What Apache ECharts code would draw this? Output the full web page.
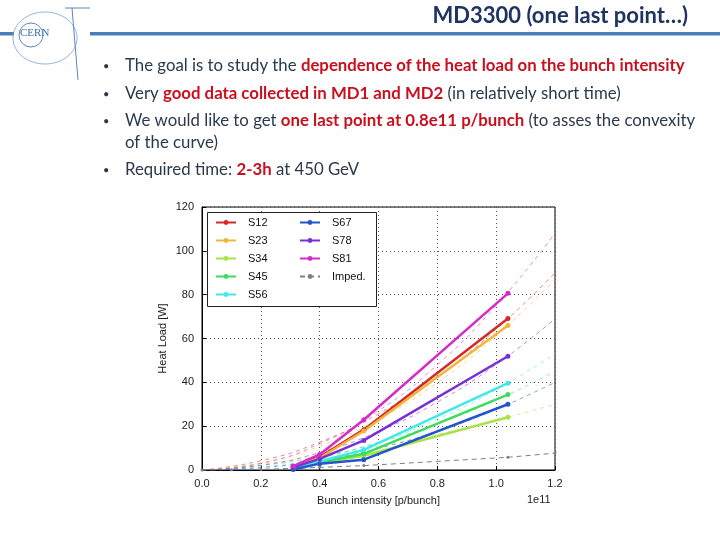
<!DOCTYPE html>
<html><head><meta charset="utf-8">
<script src="https://cdn.jsdelivr.net/npm/echarts@6/dist/echarts.min.js"></script>
<style>html,body{margin:0;padding:0;background:#fff}#c{width:720px;height:540px}</style>
</head><body><div id="c"></div>
<script>
// ---- data ----
const intensity = [0.31, 0.40, 0.55, 1.04];
const S12 = [1.5, 5.9, 18.4, 69.1];
const S23 = [1.3, 5.5, 17.8, 65.9];
const S34 = [0.6, 3.3, 6.5, 24.1];
const S45 = [0.8, 3.5, 7.4, 34.4];
const S56 = [1.0, 4.0, 9.2, 39.6];
const S67 = [0.2, 2.9, 4.7, 30.0];
const S78 = [1.2, 5.1, 13.5, 51.9];
const S81 = [1.8, 7.1, 22.9, 80.6];
const impedX = [0, 0.1, 0.2, 0.31, 0.40, 0.55, 1.04, 1.2];
const imped  = [0, 0.1, 0.3, 0.8, 1.2, 2.0, 5.8, 7.7];
// fitted curves
const fitX = [0, 0.2, 0.4, 0.6, 0.8, 1.0, 1.2];
const fitS12 = [0, 4.2, 12.7, 25.6, 42.7, 64.2, 90];
const fitS23 = [0, 3.2, 10.9, 23.2, 39.9, 61.2, 87];
const fitS34 = [0, 2.7, 6.3, 10.9, 16.3, 22.7, 30];
const fitS45 = [0, 2.0, 6.1, 12.5, 21.1, 31.9, 45];
const fitS56 = [0, 1.2, 5.5, 12.8, 23.2, 36.6, 53];
const fitS67 = [0, 1.1, 4.4, 9.9, 17.7, 27.7, 40];
const fitS78 = [0, 2.1, 8.0, 17.6, 31.0, 48.1, 69];
const fitS81 = [0, 3.0, 12.0, 27.0, 48.0, 75.0, 108];

const names = ['S12','S23','S34','S45','S56','S67','S78','S81'];
const vals = [S12,S23,S34,S45,S56,S67,S78,S81];
const fits = [fitS12,fitS23,fitS34,fitS45,fitS56,fitS67,fitS78,fitS81];
const colors = ['#d42a2a','#f2b53c','#a8e448','#3ddc5e','#40e8e8','#2355cc','#7a2ed6','#d42cc6'];

const zip = (xs, ys) => xs.map((x,i)=>[x, ys[i]]);

const series = [];
names.forEach((n,i)=>{
  series.push({
    name: n+'_fit', type:'line', data: zip(fitX, fits[i]), smooth:true, showSymbol:false,
    silent:true, z:1,
    lineStyle:{color:colors[i], width:1, type:[4,4], opacity:0.55}
  });
});
series.push({
  name:'Imped.', type:'line', data: zip(impedX, imped), z:2,
  symbol:'circle', symbolSize:3, showSymbol:true,
  itemStyle:{color:'#7f7f7f'},
  lineStyle:{color:'#7f7f7f', width:1, type:[5,4]}
});
names.forEach((n,i)=>{
  series.push({
    name:n, type:'line', data: zip(intensity, vals[i]), z:3,
    symbol:'circle', symbolSize:5,
    itemStyle:{color:colors[i]},
    lineStyle:{color:colors[i], width:2.5}
  });
});

const FONT = 'Liberation Sans';
const txt = '#2a3a4c', red = '#c8101e';
const bodyFont = 'Lato';
const bs = 16.8;
const rich = {
  n:{fontFamily:bodyFont, fontSize:bs, fill:txt},
  r:{fontFamily:bodyFont, fontSize:bs, fill:red, fontWeight:'bold'}
};
function bullet(y){ return {type:'text', left:103, top:y, style:{text:'•', fontSize:11, fill:txt, fontFamily:bodyFont}}; }
function line(y, t){ return {type:'text', left:125, top:y, style:{text:t, rich:rich}}; }

const legendCommon = {orient:'vertical', top:212, itemGap:7, itemWidth:20, itemHeight:6, z:10,
  textStyle:{fontFamily:FONT, fontSize:11, color:'#111', padding:[0,0,0,7]}};

const chart = echarts.init(document.getElementById('c'));
chart.setOption({
  animation:false,
  backgroundColor:'#fff',
  grid:{left:202, top:207, right:165, bottom:70, show:true, borderColor:'#000', borderWidth:1, backgroundColor:'transparent'},
  xAxis:{
    type:'value', min:0, max:1.2, interval:0.2,
    name:'Bunch intensity [p/bunch]', nameLocation:'middle', nameGap:25,
    nameTextStyle:{fontFamily:FONT, fontSize:11, color:'#222'},
    axisLine:{show:true, lineStyle:{color:'#000'}},
    axisTick:{show:true, inside:true, length:4, lineStyle:{color:'#000'}},
    axisLabel:{fontFamily:FONT, fontSize:11, color:'#222', margin:8, formatter:v=>v.toFixed(1)},
    splitLine:{show:true, lineStyle:{color:'#555', type:[1,3], width:1}}
  },
  yAxis:{
    type:'value', min:0, max:120, interval:20,
    name:'Heat Load [W]', nameLocation:'middle', nameGap:34,
    nameTextStyle:{fontFamily:FONT, fontSize:11, color:'#222'},
    axisLine:{show:true, lineStyle:{color:'#000'}},
    axisTick:{show:true, inside:true, length:4, lineStyle:{color:'#000'}},
    axisLabel:{fontFamily:FONT, fontSize:11, color:'#222', margin:8},
    splitLine:{show:true, lineStyle:{color:'#555', type:[1,3], width:1}}
  },
  legend:[
    Object.assign({left:210, data:['S12','S23','S34','S45','S56']}, legendCommon),
    Object.assign({left:294, data:['S67','S78','S81','Imped.']}, legendCommon)
  ],
  graphic:[
    {type:'rect', shape:{x:207.5, y:212.5, width:169, height:94}, style:{fill:'#fff', stroke:'#222', lineWidth:1}, z:5},
    {type:'text', left:527, top:494, style:{text:'1e11', fontFamily:FONT, fontSize:11, fill:'#222'}},
    // slide header
    {type:'rect', shape:{x:0, y:32, width:14, height:3.5}, style:{fill:'#4a7ebb'}},
    {type:'rect', shape:{x:90, y:32, width:630, height:3.5}, style:{fill:'#4a7ebb'}},
    {type:'circle', shape:{cx:31, cy:35, r:12}, style:{fill:'none', stroke:'#5b86c0', lineWidth:1}},
    {type:'ellipse', shape:{cx:45, cy:38, rx:32, ry:26}, style:{fill:'none', stroke:'#7aa0d0', lineWidth:0.8}},
    {type:'line', shape:{x1:65, y1:8, x2:90, y2:8}, style:{stroke:'#5b86c0', lineWidth:1}},
    {type:'line', shape:{x1:72, y1:8, x2:78, y2:80}, style:{stroke:'#5b86c0', lineWidth:1}},
    {type:'text', left:20, top:28, style:{text:'CERN', fontFamily:'Liberation Serif', fontSize:11, fill:'#3c6eb4'}},
    {type:'text', right:32, top:5, style:{text:'MD3300 (one last point…)', fontFamily:bodyFont, fontSize:22, fontWeight:'bold', fill:'#1f3460'}},
    bullet(61), line(57, '{n|The goal is to study the }{r|dependence of the heat load on the bunch intensity}'),
    bullet(89), line(85, '{n|Very }{r|good data collected in MD1 and MD2}{n| (in relatively short time)}'),
    bullet(116), line(112, '{n|We would like to get }{r|one last point at 0.8e11 p/bunch}{n| (to asses the convexity}'),
    line(134, '{n|of the curve)}'),
    bullet(165), line(161, '{n|Required time: }{r|2-3h}{n| at 450 GeV}')
  ],
  series: series
});
</script></body></html>
